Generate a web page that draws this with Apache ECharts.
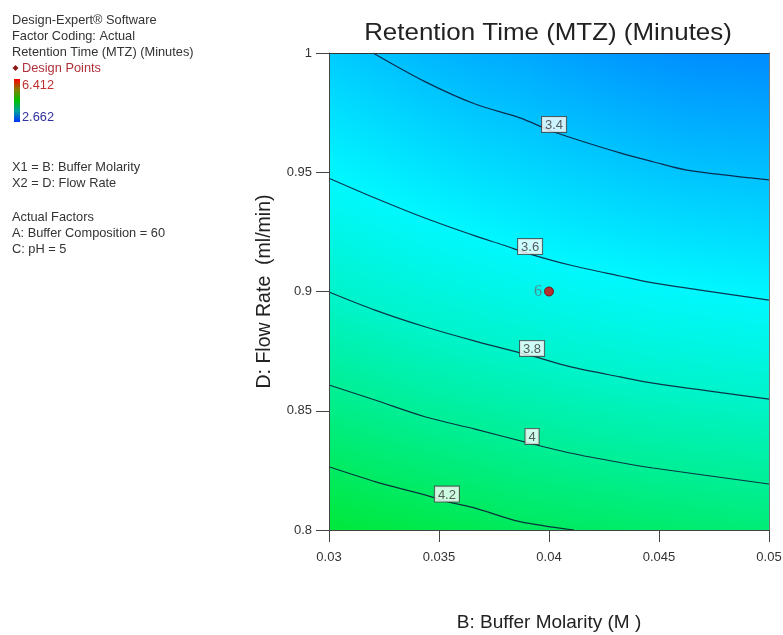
<!DOCTYPE html>
<html>
<head>
<meta charset="utf-8">
<script src="https://cdn.jsdelivr.net/npm/echarts@6/dist/echarts.min.js"></script>
<style>
  html, body { margin: 0; padding: 0; background: #ffffff; }
  #chart { width: 783px; height: 635px; }
</style>
</head>
<body>
<div id="chart"></div>
<script>
// Axis ticks (B: Buffer Molarity, D: Flow Rate)
const xTicks = [0.03, 0.035, 0.04, 0.045, 0.05];
const xTickLabels = ['0.03', '0.035', '0.04', '0.045', '0.05'];
const yTicks = [0.8, 0.85, 0.9, 0.95, 1];
const yTickLabels = ['0.8', '0.85', '0.9', '0.95', '1'];

// Retention time contour levels and their printed labels
const contourLevels = [3.4, 3.6, 3.8, 4.0, 4.2];
const contourLabelText = ['3.4', '3.6', '3.8', '4', '4.2'];

// Contour paths as [buffer molarity, flow rate] vertices
const contour34 = [[0.0320, 1.0000], [0.03436, 0.9880], [0.03664, 0.9786], [0.03868, 0.9728], [0.04023, 0.9669], [0.04323, 0.9581], [0.04473, 0.9544], [0.04627, 0.9509], [0.0500, 0.9468]];
const contour36 = [[0.0300, 0.9475], [0.03209, 0.9392], [0.03436, 0.9308], [0.03664, 0.9233], [0.03791, 0.9195], [0.03914, 0.9157], [0.04095, 0.9111], [0.04323, 0.9065], [0.04473, 0.9036], [0.0500, 0.8964]];
const contour38 = [[0.0300, 0.8998], [0.03209, 0.8922], [0.03436, 0.8852], [0.03664, 0.8792], [0.03923, 0.8730], [0.04095, 0.8685], [0.04323, 0.8642], [0.04473, 0.8616], [0.0500, 0.8549]];
const contour40 = [[0.0300, 0.8608], [0.03209, 0.8545], [0.03436, 0.8475], [0.03664, 0.8423], [0.03923, 0.8361], [0.04095, 0.8323], [0.04323, 0.8283], [0.04473, 0.8260], [0.0500, 0.8193]];
const contour42 = [[0.0300, 0.8265], [0.03209, 0.8203], [0.03436, 0.8147], [0.03536, 0.8119], [0.03664, 0.8092], [0.03868, 0.8035], [0.04114, 0.8000]];
const contourLines = [contour34, contour36, contour38, contour40, contour42];
// vertex of each path that carries the level label
const contourLabelVertex = [4, 5, 4, 4, 3];

// Design points (center point with 6 replicates)
const designPoints = [[0.04, 0.9]];
const designPointCounts = ['6'];

// Response range shown in the colour key
const responseMin = 2.662;
const responseMax = 6.412;

const FONT = '"Liberation Sans", Arial, sans-serif';

// Blue -> cyan -> green -> yellow -> red colour ramp
const rampStops = [[0, [0, 0, 255]], [0.25, [0, 248, 255]], [0.5, [0, 228, 10]], [0.75, [255, 255, 0]], [1, [255, 0, 0]]];
function colorOf(v) {
  let t = (v - responseMin) / (responseMax - responseMin);
  t = Math.max(0, Math.min(1, t));
  for (let i = 1; i < rampStops.length; i++) {
    if (t <= rampStops[i][0]) {
      const a = rampStops[i - 1], b = rampStops[i];
      const f = (t - a[0]) / (b[0] - a[0]);
      const c = a[1].map((ch, k) => Math.round(ch + (b[1][k] - ch) * f));
      return 'rgb(' + c.join(',') + ')';
    }
  }
  return 'rgb(255,0,0)';
}

// y of a contour path at x; the end segments are continued past the frame for shading
function yOnPath(path, x) {
  const n = path.length;
  let a, b;
  if (x <= path[0][0]) { a = path[0]; b = path[1]; }
  else if (x >= path[n - 1][0]) { a = path[n - 2]; b = path[n - 1]; }
  else {
    for (let i = 1; i < n; i++) {
      if (x <= path[i][0]) { a = path[i - 1]; b = path[i]; break; }
    }
  }
  const f = (x - a[0]) / (b[0] - a[0]);
  return a[1] + (b[1] - a[1]) * f;
}

// value at pixel row py from the sorted contour crossings of one column
function valueAtRow(pts, py) {
  const n = pts.length;
  let a, b;
  if (py <= pts[0][0]) { a = pts[0]; b = pts[1]; }
  else if (py >= pts[n - 1][0]) { a = pts[n - 2]; b = pts[n - 1]; }
  else {
    for (let i = 1; i < n; i++) {
      if (py <= pts[i][0]) { a = pts[i - 1]; b = pts[i]; break; }
    }
  }
  return a[1] + (b[1] - a[1]) * (py - a[0]) / (b[0] - a[0]);
}

// Shaded response surface: thin vertical strips whose gradient stops sit on the contour crossings
function renderField(params, api) {
  const bl = api.coord([xTicks[0], yTicks[0]]);
  const tr = api.coord([xTicks[xTicks.length - 1], yTicks[yTicks.length - 1]]);
  const left = Math.round(bl[0]), right = Math.round(tr[0]);
  const top = tr[1], bottom = bl[1];
  const xMin = xTicks[0], xMax = xTicks[xTicks.length - 1];
  const children = [];
  const step = 2;
  for (let px = left; px < right; px += step) {
    const w = Math.min(step, right - px);
    const xv = xMin + (px + w / 2 - bl[0]) / (tr[0] - bl[0]) * (xMax - xMin);
    const pts = contourLines.map((path, i) => [api.coord([xv, yOnPath(path, xv)])[1], contourLevels[i]]);
    pts.sort((a, b) => a[0] - b[0]);
    const stops = [{ offset: 0, color: colorOf(valueAtRow(pts, top)) }];
    pts.forEach(p => {
      if (p[0] > top && p[0] < bottom) {
        stops.push({ offset: (p[0] - top) / (bottom - top), color: colorOf(p[1]) });
      }
    });
    stops.push({ offset: 1, color: colorOf(valueAtRow(pts, bottom)) });
    children.push({
      type: 'rect',
      shape: { x: px, y: top, width: w, height: bottom - top },
      style: { fill: new echarts.graphic.LinearGradient(0, 0, 0, 1, stops) }
    });
  }
  return { type: 'group', children: children, silent: true };
}

const chart = echarts.init(document.getElementById('chart'), null, { renderer: 'canvas' });

const lineSeries = contourLines.map((path, i) => ({
  type: 'line',
  name: 'contour ' + contourLabelText[i],
  data: path,
  showSymbol: false,
  smooth: 0.3,
  silent: true,
  z: 3,
  lineStyle: { color: 'rgba(10,20,50,0.85)', width: 1.2 }
}));

const labelSeries = {
  type: 'scatter',
  data: contourLines.map((path, i) => ({ value: path[contourLabelVertex[i]], text: contourLabelText[i] })),
  symbolSize: 0,
  silent: true,
  z: 5,
  label: {
    show: true,
    position: 'top',
    distance: 0,
    formatter: p => p.data.text,
    fontFamily: FONT,
    fontSize: 13,
    color: '#333',
    backgroundColor: '#ffffff',
    borderColor: '#444',
    borderWidth: 1,
    padding: [2, 3, 0, 3]
  }
};

const pointSeries = {
  type: 'scatter',
  data: designPoints.map((p, i) => ({ value: p, text: designPointCounts[i] })),
  symbol: 'circle',
  symbolSize: 9,
  silent: true,
  z: 6,
  itemStyle: { color: '#e00000', borderColor: '#700000', borderWidth: 1 },
  label: {
    show: true,
    position: 'left',
    distance: 2,
    formatter: p => p.data.text,
    fontFamily: '"Liberation Serif", "DejaVu Serif", serif',
    fontSize: 16,
    color: '#5d7474'
  }
};

const legendLines = [
  { t: 'Design-Expert® Software', y: 20, c: '#333' },
  { t: 'Factor Coding: Actual', y: 36, c: '#333' },
  { t: 'Retention Time (MTZ) (Minutes)', y: 52, c: '#333' },
  { t: 'Design Points', y: 68, c: '#b0303a', x: 22 },
  { t: '6.412', y: 85, c: '#c03030', x: 22 },
  { t: '2.662', y: 117, c: '#3030a0', x: 22 },
  { t: 'X1 = B: Buffer Molarity', y: 167, c: '#333' },
  { t: 'X2 = D: Flow Rate', y: 183, c: '#333' },
  { t: 'Actual Factors', y: 217, c: '#333' },
  { t: 'A: Buffer Composition = 60', y: 233, c: '#333' },
  { t: 'C: pH = 5', y: 249, c: '#333' }
];

const graphics = legendLines.map(l => ({
  type: 'text',
  x: l.x || 12,
  y: l.y,
  style: { text: l.t, fill: l.c, font: '12.8px ' + FONT, verticalAlign: 'middle' }
}));
graphics.push({
  type: 'rect',
  shape: { x: 14, y: 79, width: 6, height: 43 },
  style: {
    fill: new echarts.graphic.LinearGradient(0, 0, 0, 1, [
      { offset: 0, color: '#ff0000' }, { offset: 0.25, color: '#808000' },
      { offset: 0.5, color: '#00c000' }, { offset: 0.75, color: '#00a0a0' },
      { offset: 1, color: '#0030ff' }
    ])
  }
});
graphics.push({
  type: 'polygon',
  shape: { points: [[15.5, 65], [18.5, 68], [15.5, 71], [12.5, 68]] },
  style: { fill: '#8a1a1a' }
});
graphics.push({
  type: 'text',
  x: 548,
  y: 33,
  scaleX: 1.08,
  style: { text: 'Retention Time (MTZ) (Minutes)', fill: '#222', font: '24px ' + FONT, align: 'center', verticalAlign: 'middle' }
});

const option = {
  backgroundColor: '#ffffff',
  animation: false,
  grid: { left: 329, right: 14, top: 53, bottom: 105, containLabel: false, outerBoundsMode: 'none' },
  xAxis: [
    {
      type: 'value', min: xTicks[0], max: xTicks[xTicks.length - 1], interval: 0.005,
      position: 'bottom', z: 10,
      name: 'B: Buffer Molarity (M )', nameLocation: 'middle', nameGap: 83,
      nameTextStyle: { fontFamily: FONT, fontSize: 19, color: '#222' },
      axisLine: { show: true, onZero: false, lineStyle: { color: '#444', width: 1 } },
      axisTick: { show: true, length: 12, lineStyle: { color: '#444' } },
      axisLabel: {
        margin: 21, fontFamily: FONT, fontSize: 13, color: '#333',
        formatter: v => xTickLabels[Math.round((v - xTicks[0]) / 0.005)]
      },
      splitLine: { show: false }
    },
    {
      type: 'value', min: xTicks[0], max: xTicks[xTicks.length - 1],
      position: 'top', z: 10,
      axisLine: { show: true, onZero: false, lineStyle: { color: '#333', width: 1 } },
      axisTick: { show: false }, axisLabel: { show: false }, splitLine: { show: false }
    }
  ],
  yAxis: [
    {
      type: 'value', min: yTicks[0], max: yTicks[yTicks.length - 1], interval: 0.05,
      position: 'left', z: 10,
      name: 'D: Flow Rate  (ml/min)', nameLocation: 'middle', nameGap: 54, nameRotate: 90,
      nameTextStyle: { fontFamily: FONT, fontSize: 19.5, color: '#222' },
      axisLine: { show: true, onZero: false, lineStyle: { color: '#444', width: 1 } },
      axisTick: { show: true, length: 13, lineStyle: { color: '#444' } },
      axisLabel: {
        margin: 17, fontFamily: FONT, fontSize: 13, color: '#333',
        formatter: v => yTickLabels[Math.round((v - yTicks[0]) / 0.05)]
      },
      splitLine: { show: false }
    },
    {
      type: 'value', min: yTicks[0], max: yTicks[yTicks.length - 1],
      position: 'right', z: 10,
      axisLine: { show: true, onZero: false, lineStyle: { color: '#777', width: 1 } },
      axisTick: { show: false }, axisLabel: { show: false }, splitLine: { show: false }
    }
  ],
  series: [
    {
      type: 'custom',
      renderItem: renderField,
      data: [[xTicks[0], yTicks[0]]],
      silent: true,
      clip: true,
      z: 1
    }
  ].concat(lineSeries, [labelSeries, pointSeries]),
  graphic: graphics
};

chart.setOption(option);
</script>
</body>
</html>
